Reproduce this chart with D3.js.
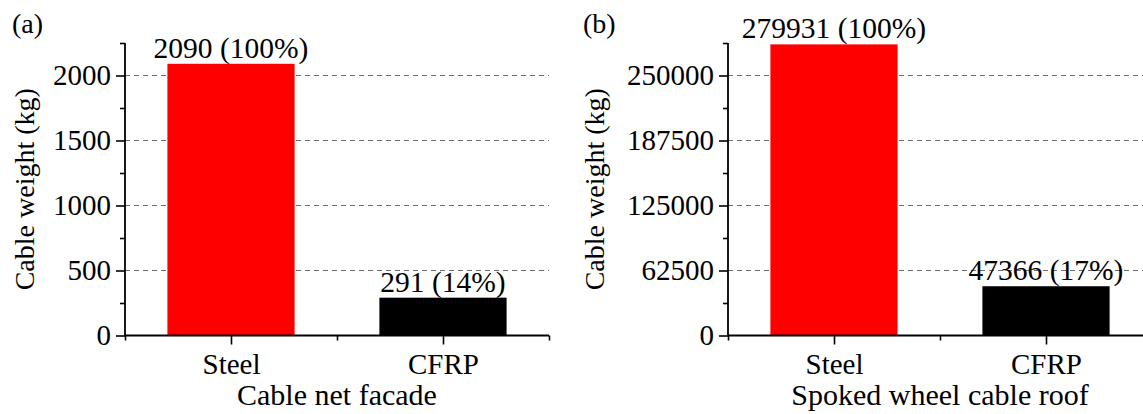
<!DOCTYPE html>
<html>
<head>
<meta charset="utf-8">
<script src="https://cdn.jsdelivr.net/npm/d3@7"></script>
<style>
  html, body { margin: 0; padding: 0; background: #fff; }
  svg { display: block; }
  text { font-family: "Liberation Serif", "Times New Roman", Times, serif; fill: #000; }
</style>
</head>
<body>
<svg id="chart" width="1143" height="414"></svg>
<script>
// ---- data ----
const categories = ["Steel", "CFRP"];
const barColors = ["#ff0000", "#000000"];

const facadeValues = [2090, 291];
const facadeLabels = ["2090 (100%)", "291 (14%)"];
const facadeTicks = [0, 500, 1000, 1500, 2000];
const facadeMinorTicks = [250, 750, 1250, 1750, 2250];
const facadeMax = 2250;
const facadeTitle = "Cable net facade";

const roofValues = [279931, 47366];
const roofLabels = ["279931 (100%)", "47366 (17%)"];
const roofTicks = [0, 62500, 125000, 187500, 250000];
const roofMinorTicks = [31250, 93750, 156250, 218750, 281250];
const roofMax = 281250;
const roofTitle = "Spoked wheel cable roof";

const yTitle = "Cable weight (kg)";
const panelTags = ["(a)", "(b)"];

// ---- layout ----
const svg = d3.select("#chart");
const TICK_FONT = 29, LABEL_FONT = 29.5, XTITLE_FONT = 30, YTITLE_FONT = 28, TAG_FONT = 28;
const plotTop = 43, plotBottom = 335.5;
const SERIF = "Liberation Serif, Times New Roman, serif";

const panels = [
  { tag: panelTags[0], left: 125, values: facadeValues, labels: facadeLabels, ticks: facadeTicks,
    minor: facadeMinorTicks, max: facadeMax, title: facadeTitle, yTitleX: 34, tagX: 12 },
  { tag: panelTags[1], left: 728, values: roofValues, labels: roofLabels, ticks: roofTicks,
    minor: roofMinorTicks, max: roofMax, title: roofTitle, yTitleX: 604, tagX: 583 }
];

panels.forEach(p => {
  const g = svg.append("g");
  const unit = 212;
  const x = d3.scaleLinear().domain([0.5, 2.5]).range([p.left, p.left + 2 * unit]);
  const y = d3.scaleLinear().domain([0, p.max]).range([plotBottom, plotTop]);
  const barW = 0.6;

  // grid lines (dashed) at major ticks
  g.append("g").selectAll("line").data(p.ticks.filter(t => t > 0)).join("line")
    .attr("x1", x(0.5)).attr("x2", x(2.5))
    .attr("y1", d => y(d)).attr("y2", d => y(d))
    .attr("stroke", "#6e6e6e").attr("stroke-width", 1.1)
    .attr("stroke-dasharray", "5,4");

  // bars
  g.append("g").selectAll("rect").data(p.values).join("rect")
    .attr("x", (d, i) => x(i + 1 - barW / 2))
    .attr("width", x(1 + barW / 2) - x(1 - barW / 2))
    .attr("y", d => y(d))
    .attr("height", d => y(0) - y(d))
    .attr("fill", (d, i) => barColors[i]);

  // value labels
  g.append("g").selectAll("text").data(p.values).join("text")
    .attr("x", (d, i) => x(i + 1))
    .attr("y", d => y(d) - 6)
    .attr("text-anchor", "middle")
    .attr("font-size", LABEL_FONT)
    .text((d, i) => p.labels[i]);

  // y axis (major)
  const yAxis = d3.axisLeft(y).tickValues(p.ticks).tickSize(9).tickPadding(5)
    .tickFormat(d3.format("d"));
  const ya = g.append("g").attr("transform", `translate(${p.left},0)`).call(yAxis);
  ya.attr("font-family", SERIF);
  ya.select(".domain").remove();
  ya.selectAll(".tick line").attr("stroke", "#000").attr("stroke-width", 1.6);
  ya.selectAll(".tick text").attr("font-size", TICK_FONT).attr("fill", "#000");

  // y axis minor
  const ym = g.append("g").attr("transform", `translate(${p.left},0)`)
    .call(d3.axisLeft(y).tickValues(p.minor).tickSize(5).tickFormat(""));
  ym.select(".domain").remove();
  ym.selectAll(".tick line").attr("stroke", "#000").attr("stroke-width", 1.6);

  // x axis major
  const xAxis = d3.axisBottom(x).tickValues([1, 2]).tickSize(9).tickPadding(9)
    .tickFormat(d => categories[d - 1]);
  const xa = g.append("g").attr("transform", `translate(0,${plotBottom})`).call(xAxis);
  xa.attr("font-family", SERIF);
  xa.select(".domain").remove();
  xa.selectAll(".tick line").attr("stroke", "#000").attr("stroke-width", 1.6);
  xa.selectAll(".tick text").attr("font-size", TICK_FONT).attr("fill", "#000");

  // x axis minor
  const xm = g.append("g").attr("transform", `translate(0,${plotBottom})`)
    .call(d3.axisBottom(x).tickValues([0.5, 1.5, 2.5]).tickSize(5).tickFormat(""));
  xm.select(".domain").remove();
  xm.selectAll(".tick line").attr("stroke", "#000").attr("stroke-width", 1.6);

  // axis lines
  g.append("line").attr("x1", x(0.5)).attr("x2", x(0.5)).attr("y1", plotTop).attr("y2", plotBottom)
    .attr("stroke", "#000").attr("stroke-width", 1.8);
  g.append("line").attr("x1", x(0.5)).attr("x2", x(2.5)).attr("y1", plotBottom).attr("y2", plotBottom)
    .attr("stroke", "#000").attr("stroke-width", 1.8);

  // x axis title
  g.append("text").attr("x", (x(0.5) + x(2.5)) / 2).attr("y", 405)
    .attr("text-anchor", "middle").attr("font-size", XTITLE_FONT).text(p.title);

  // y axis title
  g.append("text").attr("transform", `translate(${p.yTitleX},${(plotTop + plotBottom) / 2}) rotate(-90)`)
    .attr("text-anchor", "middle").attr("font-size", YTITLE_FONT).text(yTitle);

  // panel tag
  g.append("text").attr("x", p.tagX).attr("y", 33).attr("font-size", TAG_FONT).text(p.tag);
});
</script>
</body>
</html>
